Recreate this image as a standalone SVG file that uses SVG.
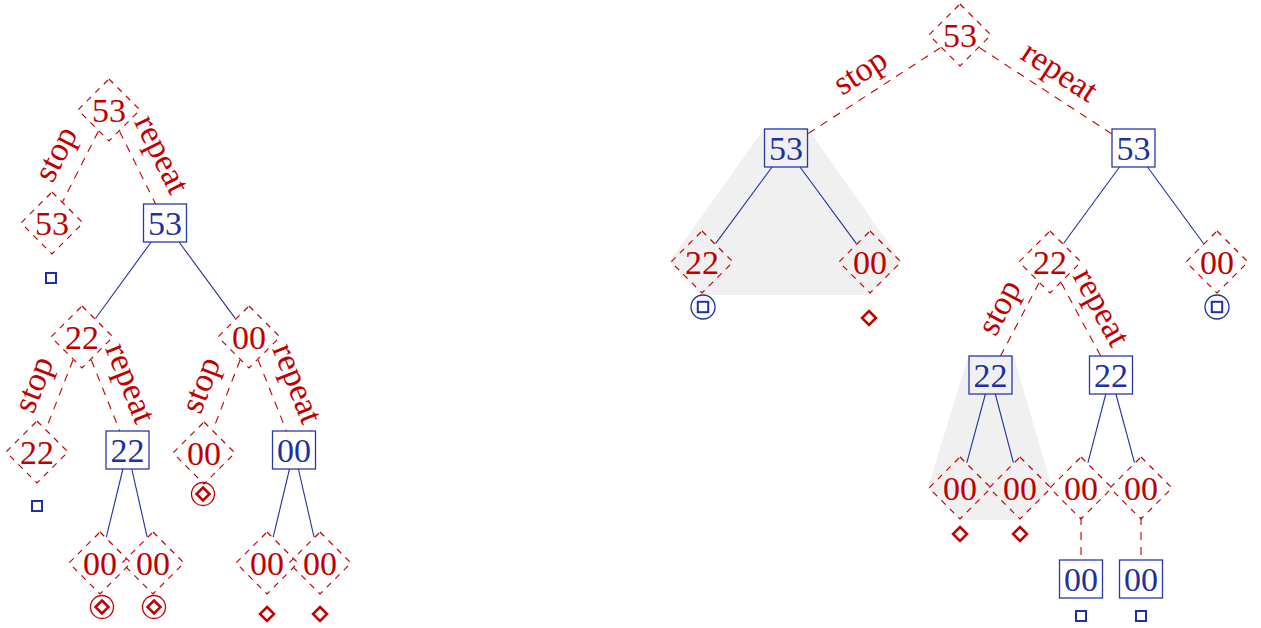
<svg xmlns="http://www.w3.org/2000/svg" width="1261" height="628" viewBox="0 0 1261 628">
<style>
.dia{fill:none;stroke:#c00000;stroke-width:1.2;stroke-dasharray:6 6}
.box{fill:none;stroke:#2a38a8;stroke-width:1.3}
.rt{font-family:"Liberation Serif",serif;font-size:34px;fill:#c00000;text-anchor:middle}
.bt{font-family:"Liberation Serif",serif;font-size:34px;fill:#2030a0;text-anchor:middle}
.de{stroke:#c00000;stroke-width:1.1;stroke-dasharray:8 7;fill:none}
.se{stroke:#2030a0;stroke-width:1.1;fill:none}
.sq{fill:none;stroke:#2030a0;stroke-width:2}
.cb{fill:none;stroke:#2030a0;stroke-width:1.3}
.sd{fill:none;stroke:#c00000;stroke-width:2.5}
.cr{fill:none;stroke:#c00000;stroke-width:1.3}
.shade{fill:#f0f0f0;stroke:#f0f0f0;stroke-width:6;stroke-linejoin:round}
</style>
<defs>
<polygon id="dm" class="dia" points="0,-31 31,0 0,31 -31,0"/>
<rect id="bx" class="box" x="-21.5" y="-19" width="43" height="38"/>
<rect id="ss" class="sq" x="-5" y="-5" width="10" height="10"/>
<polygon id="sdm" class="sd" points="0,-7 7,0 0,7 -7,0"/>
<g id="cdm"><circle class="cr" r="11.5"/><polygon class="sd" points="0,-6.5 6.5,0 0,6.5 -6.5,0"/></g>
<g id="csq"><circle class="cb" r="12"/><rect class="sq" x="-5.2" y="-5.2" width="10.4" height="10.4"/></g>
</defs>

<g id="shading">
<polygon class="shade" points="766,131 806,131 898,262 868,292 702,292 673,262"/>
<polygon class="shade" points="971,358 1011,358 1049,488 1020,517 960,517 931,488"/>
</g>

<g id="connectors">
<line class="de" x1="98.3" y1="131.3" x2="62.7" y2="201.7"/>
<line class="de" x1="119.6" y1="131.4" x2="155.6" y2="204"/>
<line class="se" x1="151.2" y1="242" x2="95.5" y2="318.5"/>
<line class="se" x1="179" y1="242" x2="235.4" y2="318.6"/>
<line class="de" x1="73" y1="360" x2="46" y2="429"/>
<line class="de" x1="91.2" y1="359.8" x2="119.8" y2="431"/>
<line class="se" x1="122.9" y1="469" x2="106.3" y2="537.2"/>
<line class="se" x1="131.8" y1="469" x2="147.1" y2="536.9"/>
<line class="de" x1="240.1" y1="360" x2="212.9" y2="430"/>
<line class="de" x1="258.1" y1="359.9" x2="286.4" y2="431"/>
<line class="se" x1="289.5" y1="469" x2="273.2" y2="537.1"/>
<line class="se" x1="298.4" y1="469" x2="314" y2="537"/>

<line class="de" x1="940.6" y1="47.6" x2="807.5" y2="134"/>
<line class="de" x1="979.4" y1="47.6" x2="1112" y2="134"/>
<line class="se" x1="772" y1="167" x2="715.6" y2="243.6"/>
<line class="se" x1="800" y1="167" x2="856.4" y2="243.6"/>
<line class="se" x1="1119.5" y1="167" x2="1063.5" y2="243.5"/>
<line class="se" x1="1147.5" y1="167" x2="1203.5" y2="243.5"/>
<line class="de" x1="1039" y1="283" x2="1000.5" y2="356"/>
<line class="de" x1="1061.2" y1="282.8" x2="1100.7" y2="356"/>
<line class="se" x1="985.4" y1="394" x2="966.8" y2="462.8"/>
<line class="se" x1="995.3" y1="394" x2="1013.4" y2="462.6"/>
<line class="se" x1="1105.8" y1="394" x2="1087.9" y2="462.8"/>
<line class="se" x1="1115.9" y1="394" x2="1134.5" y2="462.6"/>
<line class="de" x1="1081" y1="517" x2="1081" y2="560"/>
<line class="de" x1="1141" y1="517" x2="1141" y2="560"/>

<text class="rt" transform="translate(65.3,158.8) rotate(-63.2)">stop</text>
<text class="rt" transform="translate(152.2,159) rotate(63.6)">repeat</text>
<text class="rt" transform="translate(43.7,388.3) rotate(-68.6)">stop</text>
<text class="rt" transform="translate(120.5,387.1) rotate(68.1)">repeat</text>
<text class="rt" transform="translate(210.7,388.8) rotate(-68.8)">stop</text>
<text class="rt" transform="translate(287.3,387.2) rotate(68.3)">repeat</text>
<text class="rt" transform="translate(865.9,80.6) rotate(-33)">stop</text>
<text class="rt" transform="translate(1053.8,80.6) rotate(33.1)">repeat</text>
<text class="rt" transform="translate(1008.7,312.4) rotate(-62.2)">stop</text>
<text class="rt" transform="translate(1091.9,312.3) rotate(61.6)">repeat</text>
</g>

<!-- left tree -->
<g id="l-root" transform="translate(109,110)"><use href="#dm"/><text class="rt" y="11.5">53</text></g>
<g id="l-stop53" transform="translate(52,223)"><use href="#dm"/><text class="rt" y="11.5">53</text><use href="#ss" x="-1" y="55"/></g>
<g id="l-box53" transform="translate(165,223)"><use href="#bx"/><text class="bt" y="12">53</text></g>
<g id="l-d22" transform="translate(82,337)"><use href="#dm"/><text class="rt" y="11.5">22</text></g>
<g id="l-d00" transform="translate(249,337)"><use href="#dm"/><text class="rt" y="11.5">00</text></g>
<g id="l-stop22" transform="translate(37,452)"><use href="#dm"/><text class="rt" y="11.5">22</text><use href="#ss" y="54"/></g>
<g id="l-box22" transform="translate(127.5,450)"><use href="#bx"/><text class="bt" y="12">22</text></g>
<g id="l-stop00" transform="translate(204,453)"><use href="#dm"/><text class="rt" y="11.5">00</text><use href="#cdm" x="-1" y="41"/></g>
<g id="l-box00" transform="translate(294,450)"><use href="#bx"/><text class="bt" y="12">00</text></g>
<g id="l-a" transform="translate(100,563)"><use href="#dm"/><text class="rt" y="11.5">00</text><use href="#cdm" x="2" y="44"/></g>
<g id="l-b" transform="translate(153,563)"><use href="#dm"/><text class="rt" y="11.5">00</text><use href="#cdm" x="1" y="44"/></g>
<g id="l-c" transform="translate(267,563)"><use href="#dm"/><text class="rt" y="11.5">00</text><use href="#sdm" y="51"/></g>
<g id="l-d" transform="translate(320,563)"><use href="#dm"/><text class="rt" y="11.5">00</text><use href="#sdm" y="51"/></g>

<!-- right tree -->
<g id="r-root" transform="translate(960,35)"><use href="#dm"/><text class="rt" y="11.5">53</text></g>
<g id="r-box53a" transform="translate(786,148)"><use href="#bx"/><text class="bt" y="12">53</text></g>
<g id="r-box53b" transform="translate(1133.5,148)"><use href="#bx"/><text class="bt" y="12">53</text></g>
<g id="r-d22a" transform="translate(702,262)"><use href="#dm"/><text class="rt" y="11.5">22</text><use href="#csq" x="1" y="45"/></g>
<g id="r-d00a" transform="translate(870,262)"><use href="#dm"/><text class="rt" y="11.5">00</text><use href="#sdm" x="-1" y="56"/></g>
<g id="r-d22b" transform="translate(1050,262)"><use href="#dm"/><text class="rt" y="11.5">22</text></g>
<g id="r-d00b" transform="translate(1217,262)"><use href="#dm"/><text class="rt" y="11.5">00</text><use href="#csq" y="45"/></g>
<g id="r-box22a" transform="translate(990.5,375)"><use href="#bx"/><text class="bt" y="12">22</text></g>
<g id="r-box22b" transform="translate(1111,375)"><use href="#bx"/><text class="bt" y="12">22</text></g>
<g id="r-e" transform="translate(960,488)"><use href="#dm"/><text class="rt" y="11.5">00</text><use href="#sdm" y="46"/></g>
<g id="r-f" transform="translate(1020,488)"><use href="#dm"/><text class="rt" y="11.5">00</text><use href="#sdm" y="46"/></g>
<g id="r-g" transform="translate(1081,488)"><use href="#dm"/><text class="rt" y="11.5">00</text></g>
<g id="r-h" transform="translate(1141,488)"><use href="#dm"/><text class="rt" y="11.5">00</text></g>
<g id="r-box00a" transform="translate(1081,579)"><use href="#bx"/><text class="bt" y="12">00</text><use href="#ss" y="37"/></g>
<g id="r-box00b" transform="translate(1141,579)"><use href="#bx"/><text class="bt" y="12">00</text><use href="#ss" y="37"/></g>
</svg>
